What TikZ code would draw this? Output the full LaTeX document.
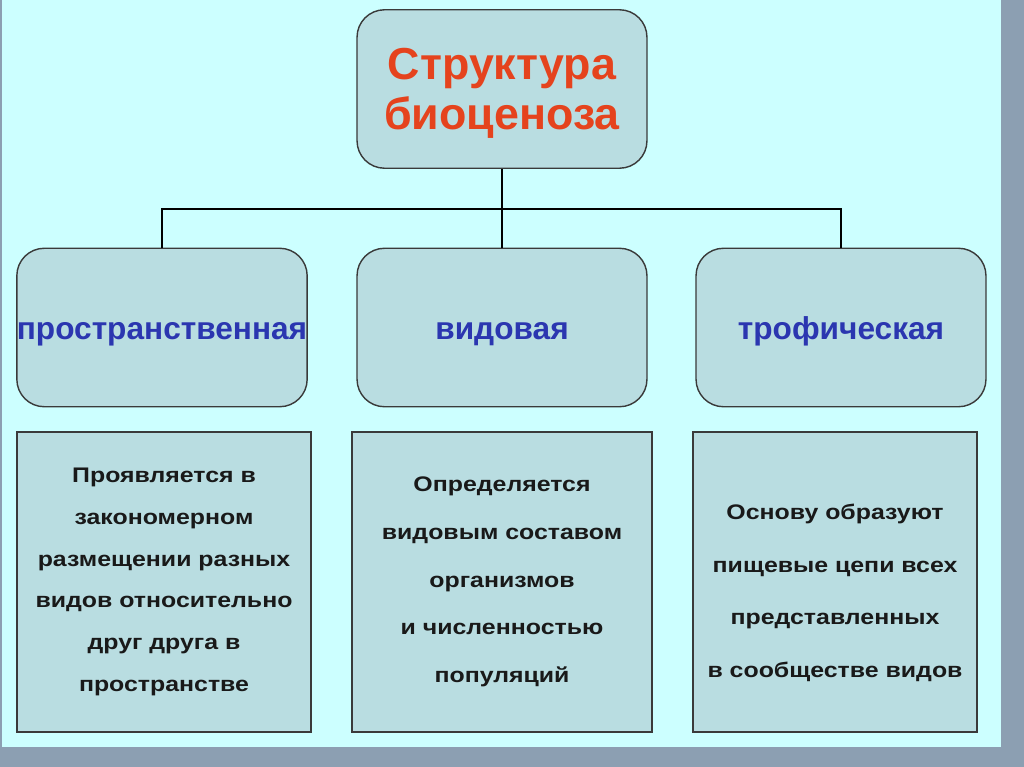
\documentclass[tikz,border=0pt]{standalone}
\usepackage{fontspec}
\setmainfont{Liberation Sans}
\newfontfamily\notefont{Liberation Sans}[FakeStretch=1.18]
\definecolor{slidebg}{HTML}{CCFFFF}
\definecolor{framegray}{HTML}{8C9FB2}
\definecolor{boxfill}{HTML}{B9DDE1}
\definecolor{boxline}{HTML}{3A3A3A}
\definecolor{titlered}{HTML}{E5431D}
\definecolor{kindblue}{HTML}{2B36B0}

\begin{document}
\begin{tikzpicture}[x=0.02cm, y=-0.02cm,
    roundbox/.style={draw=boxline, line width=0.8pt, fill=boxfill,
      rounded corners=0.55cm, minimum width=5.8cm, minimum height=3.17cm,
      inner xsep=0pt, align=center},
    kindlabel/.style={roundbox, text=kindblue, text height=18.2pt, text depth=4pt,
      font=\fontsize{18}{20}\selectfont\bfseries},
    notebox/.style={draw=boxline, line width=0.8pt, fill=boxfill,
      minimum height=6cm, align=center, text=black!90},
    link/.style={line width=1.1pt, black}]
    % slide background
    \useasboundingbox (0,0) rectangle (1024,767);
    \fill[framegray] (0,0) rectangle (1024,767);
    \fill[slidebg] (2,0) rectangle (1001,747);

    % boxes
    \node[roundbox] (top) at (502,89) {};
    \node[text=titlered, align=center, font=\fontsize{25.5}{28.4}\selectfont\bfseries]
        (title) at (502,93.5) {Структура\\биоценоза};
    \node[kindlabel] (space) at (162,327.5) {пространственная};
    \node[kindlabel] (kind) at (502,327.5) {видовая};
    \node[kindlabel] (troph) at (841,327.5) {трофическая};

    \node[notebox, minimum width=5.88cm, font=\fontsize{12}{23.8}\notefont\bfseries]
        (spacenote) at (164,582) {Проявляется в\\закономерном\\размещении разных\\видов относительно\\друг друга в\\пространстве};
    \node[notebox, minimum width=6cm, font=\fontsize{12}{27.2}\notefont\bfseries]
        (kindnote) at (502,582) {Определяется\\видовым составом\\организмов\\и численностью\\популяций};
    \node[notebox, minimum width=5.68cm] (trophnote) at (835,582) {};
    \node[align=center, text=black!90, font=\fontsize{12}{30}\notefont\bfseries]
        (trophtext) at (835,593) {Основу образуют\\пищевые цепи всех\\представленных\\в сообществе видов};

    % connectors
    \coordinate (bus) at (502,209);
    \draw[link] (top.south) -- (kind.north);
    \draw[link] (space.north) |- (bus) -| (troph.north);
\end{tikzpicture}
\end{document}
